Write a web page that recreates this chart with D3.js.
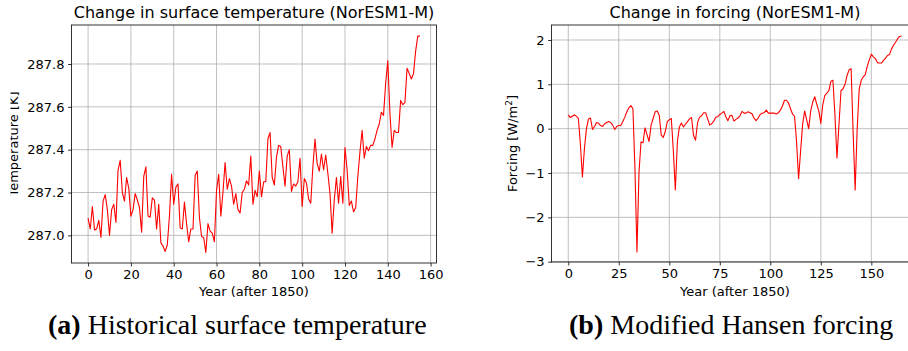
<!DOCTYPE html>
<html>
<head>
<meta charset="utf-8">
<script src="https://cdn.jsdelivr.net/npm/d3@7"></script>
<style>
  body { margin: 0; background: #fff; }
  svg { display: block; }
</style>
</head>
<body>
<div id="chart"></div>
<script>
// surface temperature (K), one value per year after 1850
var tempValues = [
  287.08, 287.03, 287.135, 287.025, 287.03, 287.07, 286.99, 287.16, 287.19, 287.12,
  287.00, 287.12, 287.145, 287.06, 287.305, 287.35, 287.20, 287.16, 287.27, 287.22,
  287.09, 287.12, 287.195, 287.165, 287.13, 287.015, 287.275, 287.32, 287.09, 287.085,
  287.175, 287.165, 287.03, 287.145, 286.965, 286.95, 286.925, 286.955, 287.09, 287.285,
  287.145, 287.225, 287.24, 287.035, 287.03, 287.155, 287.055, 286.97, 287.03, 287.03,
  287.28, 287.30, 287.085, 286.995, 286.99, 286.92, 287.055, 287.02, 287.01, 286.97,
  287.21, 287.285, 287.09, 287.20, 287.34, 287.215, 287.265, 287.23, 287.145, 287.195,
  287.12, 287.105, 287.20, 287.215, 287.255, 287.235, 287.37, 287.145, 287.21, 287.18,
  287.30, 287.18, 287.25, 287.25, 287.45, 287.48, 287.27, 287.235, 287.365, 287.42,
  287.415, 287.32, 287.23, 287.37, 287.40, 287.205, 287.24, 287.23, 287.25, 287.36,
  287.135, 287.265, 287.245, 287.17, 287.15, 287.32, 287.45, 287.335, 287.30, 287.38,
  287.305, 287.375, 287.29, 287.195, 287.01, 287.165, 287.27, 287.15, 287.275, 287.15,
  287.41, 287.305, 287.14, 287.16, 287.11, 287.13, 287.275, 287.39, 287.49, 287.36,
  287.415, 287.395, 287.42, 287.42, 287.45, 287.49, 287.52, 287.575, 287.56, 287.71,
  287.815, 287.57, 287.41, 287.49, 287.48, 287.48, 287.63, 287.61, 287.62, 287.78,
  287.755, 287.73, 287.755, 287.86, 287.93, 287.93
];

// modified Hansen forcing (W/m2), one value per year after 1850
var forcingValues = [
  0.31, 0.25, 0.28, 0.31, 0.28, 0.23, -0.35, -1.09, -0.45, 0.00,
  0.22, 0.24, -0.02, 0.05, 0.14, 0.12, 0.07, 0.05, 0.11, 0.14,
  0.16, 0.14, 0.08, -0.02, 0.05, 0.07, 0.07, 0.16, 0.26, 0.38,
  0.47, 0.52, 0.45, -0.90, -2.78, -1.00, -0.30, -0.32, 0.02, -0.14,
  -0.29, 0.08, 0.23, 0.38, 0.40, 0.31, -0.14, -0.20, -0.07, 0.16,
  0.20, 0.23, -0.50, -1.38, -0.30, 0.04, 0.13, 0.04, 0.10, 0.16,
  0.22, 0.25, -0.15, -0.26, 0.14, 0.26, 0.29, 0.36, 0.36, 0.22,
  0.08, 0.11, 0.17, 0.26, 0.27, 0.32, 0.35, 0.39, 0.27, 0.18,
  0.29, 0.30, 0.17, 0.21, 0.24, 0.29, 0.39, 0.35, 0.35, 0.38,
  0.36, 0.33, 0.23, 0.18, 0.24, 0.32, 0.35, 0.36, 0.42, 0.35,
  0.35, 0.35, 0.35, 0.33, 0.36, 0.42, 0.51, 0.64, 0.64, 0.58,
  0.45, 0.33, 0.28, -0.30, -1.13, -0.50, 0.10, 0.40, 0.20, 0.00,
  0.40, 0.60, 0.72, 0.55, 0.40, 0.12, 0.55, 0.75, 0.80, 0.86,
  1.07, 1.09, 0.30, -0.66, 0.10, 0.86, 0.90, 1.00, 1.20, 1.33,
  1.35, -0.10, -1.38, 0.00, 0.89, 1.09, 1.17, 1.22, 1.41, 1.55,
  1.68, 1.62, 1.58, 1.49, 1.48, 1.48, 1.54, 1.59, 1.65, 1.67,
  1.80, 1.88, 1.95, 2.03, 2.08, 2.09
];

var tempXTicks = [0, 20, 40, 60, 80, 100, 120, 140, 160];
var tempYTicks = [287.0, 287.2, 287.4, 287.6, 287.8];
var forcingXTicks = [0, 25, 50, 75, 100, 125, 150];
var forcingYTicks = [-3, -2, -1, 0, 1, 2];

var W = 908, H = 351;
var sans = "DejaVu Sans, sans-serif";

var svg = d3.select("#chart").append("svg")
    .attr("width", W)
    .attr("height", H);

// the left label is cut off at the page edge in the original
svg.append("defs").append("clipPath")
    .attr("id", "pageClip")
  .append("rect")
    .attr("x", 10.5).attr("y", 0)
    .attr("width", W).attr("height", H);

var drawPanel = function(p) {
    var x = d3.scaleLinear().domain(p.xDomain).range([p.left, p.right]);
    var y = d3.scaleLinear().domain(p.yDomain).range([p.bottom, p.top]);
    var g = svg.append("g");

    // grid
    g.append("g").selectAll("line").data(p.xTicks).enter()
        .append("line")
        .attr("x1", function(d) { return x(d); })
        .attr("x2", function(d) { return x(d); })
        .attr("y1", p.top).attr("y2", p.bottom)
        .attr("stroke", "#b0b0b0").attr("stroke-width", 0.8);
    g.append("g").selectAll("line").data(p.yTicks).enter()
        .append("line")
        .attr("x1", p.left).attr("x2", p.right)
        .attr("y1", function(d) { return y(d); })
        .attr("y2", function(d) { return y(d); })
        .attr("stroke", "#b0b0b0").attr("stroke-width", 0.8);

    var line = d3.line()
        .x(function(d, i) { return x(i); })
        .y(function(d) { return y(d); });
    g.append("path")
        .datum(p.values)
        .attr("d", line)
        .attr("fill", "none")
        .attr("stroke", "#ff0000")
        .attr("stroke-width", 1.1)
        .attr("stroke-linejoin", "round");

    g.append("rect")
        .attr("x", p.left).attr("y", p.top)
        .attr("width", p.right - p.left).attr("height", p.bottom - p.top)
        .attr("fill", "none")
        .attr("stroke", "#000").attr("stroke-width", 0.8);

    var xAxis = g.append("g")
        .attr("transform", "translate(0," + p.bottom + ")")
        .call(d3.axisBottom(x).tickValues(p.xTicks).tickSizeInner(3.5).tickSizeOuter(0).tickPadding(3.5));
    var yAxis = g.append("g")
        .attr("transform", "translate(" + p.left + ",0)")
        .call(d3.axisLeft(y).tickValues(p.yTicks).tickFormat(p.yFormat).tickSizeInner(3.5).tickSizeOuter(0).tickPadding(3.5));
    [xAxis, yAxis].forEach(function(a) {
        a.select(".domain").remove();
        a.selectAll("line").attr("stroke", "#000").attr("stroke-width", 0.8);
        a.selectAll("text")
            .attr("font-family", sans)
            .attr("font-size", "13px")
            .attr("fill", "#000");
    });

    g.append("text")
        .attr("x", (p.left + p.right) / 2)
        .attr("y", 18)
        .attr("text-anchor", "middle")
        .attr("font-family", sans)
        .attr("font-size", "16px")
        .text(p.title);

    g.append("text")
        .attr("x", (p.left + p.right) / 2)
        .attr("y", 296)
        .attr("text-anchor", "middle")
        .attr("font-family", sans)
        .attr("font-size", "13px")
        .text("Year (after 1850)");

    var lg = g.append("g");
    if (p.clipLabel) lg.attr("clip-path", "url(#pageClip)");
    var yl = lg.append("text")
        .attr("transform", "translate(" + p.yLabelX + "," + ((p.top + p.bottom) / 2) + ") rotate(-90)")
        .attr("text-anchor", "middle")
        .attr("font-family", sans)
        .attr("font-size", "13px");
    p.yLabel(yl);
};

drawPanel({
    left: 71.5, right: 436.5, top: 25, bottom: 263,
    xDomain: [-7.75, 162.75],
    yDomain: [286.871, 287.982],
    xTicks: tempXTicks, yTicks: tempYTicks,
    yFormat: d3.format(".1f"),
    values: tempValues,
    title: "Change in surface temperature (NorESM1-M)",
    yLabelX: 17.5,
    clipLabel: true,
    yLabel: function(t) { t.text("Temperature [K]"); }
});

drawPanel({
    left: 551.6, right: 918.3, top: 25, bottom: 262,
    xDomain: [-8.25, 173.25],
    yDomain: [-3.007, 2.338],
    xTicks: forcingXTicks, yTicks: forcingYTicks,
    yFormat: d3.format("d"),
    values: forcingValues,
    title: "Change in forcing (NorESM1-M)",
    yLabelX: 517,
    clipLabel: false,
    yLabel: function(t) {
        t.append("tspan").text("Forcing [W/m");
        t.append("tspan").attr("dy", -5).attr("font-size", "9px").text("2");
        t.append("tspan").attr("dy", 5).text("]");
    }
});

// sub-figure captions
var captions = [
    {x: 48, bold: "(a)", rest: " Historical surface temperature"},
    {x: 569, bold: "(b)", rest: " Modified Hansen forcing"}
];
captions.forEach(function(c) {
    var t = svg.append("text")
        .attr("x", c.x).attr("y", 334)
        .attr("font-family", "Liberation Serif, serif")
        .attr("font-size", "28px")
        .attr("fill", "#000");
    t.append("tspan").attr("font-weight", "bold").text(c.bold);
    t.append("tspan").text(c.rest);
});
</script>
</body>
</html>
